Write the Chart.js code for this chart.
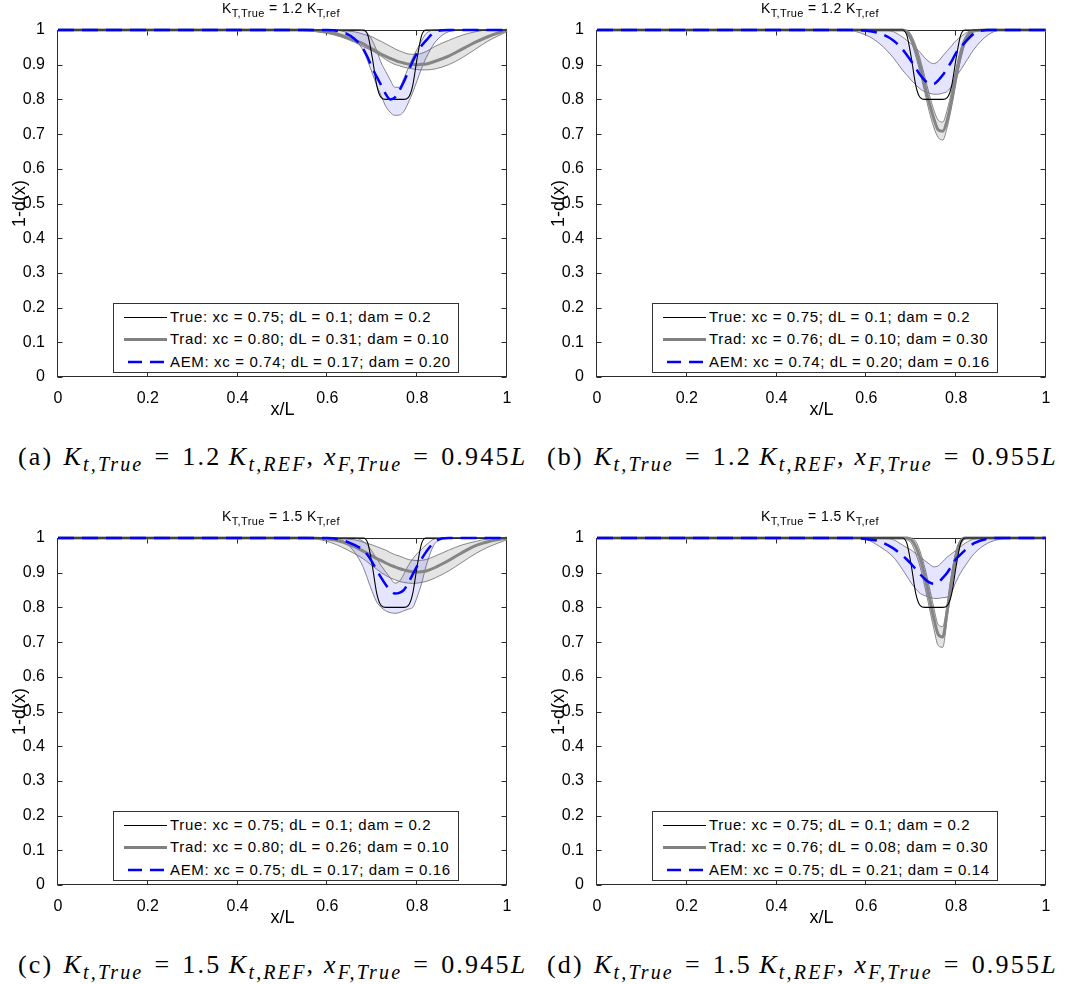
<!DOCTYPE html>
<html>
<head>
<meta charset="utf-8">
<script src="https://cdn.jsdelivr.net/npm/chart.js@4.4.1/dist/chart.umd.min.js"></script>
<style>
  body { margin: 0; background: #fff; width: 1078px; height: 984px; position: relative; overflow: hidden;
         font-family: "Liberation Sans", Arial, sans-serif; color: #000; }
  .pane { position: absolute; width: 539px; height: 430px; }
  .pane canvas { position: absolute; left: 0; top: 0; }
  .ttl { position: absolute; left: 281px; top: 0px; transform: translateX(-50%); font-size: 14px; line-height: 16px; letter-spacing: 0.4px; white-space: nowrap; }
  .ttl sub { font-size: 11px; }
  .leg { position: absolute; left: 113px; top: 303px; width: 344px; height: 66px; border: 1px solid #333; background: #fff;
         font-size: 15px; letter-spacing: 0.65px; padding-top: 2px; box-sizing: content-box; }
  .row { height: 22.3px; line-height: 22.3px; position: relative; white-space: nowrap; }
  .row .smp { position: absolute; left: 10px; top: 11px; width: 43px; }
  .row span { position: absolute; left: 56px; }
  .cap { position: absolute; font-family: "Liberation Serif", "DejaVu Serif", serif; font-size: 26px; line-height: 28px; letter-spacing: 2.2px; white-space: nowrap; }
  .cap sub { font-size: 20px; }
  .cap .eq { margin: 0 11px; }
  .cap .lb { margin-right: 10px; }
</style>
</head>
<body>
<script>
// shared x grid (x/L)
const xs = [0, 0.5, 0.55, 0.6, 0.63, 0.66, 0.68, 0.69, 0.70, 0.71, 0.72, 0.73, 0.74, 0.75, 0.76, 0.77, 0.78, 0.79, 0.80, 0.81, 0.82, 0.84, 0.87, 0.90, 0.93, 0.96, 1.0];

// true damage (same in all panels)
const trueY = [1, 1, 1, 1, 1, 1, 1, 0.985, 0.92, 0.84, 0.805, 0.8, 0.8, 0.8, 0.8, 0.8, 0.805, 0.84, 0.92, 0.985, 1, 1, 1, 1, 1, 1, 1];

// (a)
const tradA   = [1, 1, 1, 0.995, 0.985, 0.97, 0.96, 0.952, 0.945, 0.938, 0.93, 0.924, 0.918, 0.913, 0.908, 0.905, 0.902, 0.901, 0.90, 0.901, 0.902, 0.91, 0.925, 0.945, 0.965, 0.982, 1];
const tradHiA = [1, 1, 1, 1, 0.998, 0.995, 0.988, 0.984, 0.98, 0.973, 0.967, 0.96, 0.953, 0.946, 0.94, 0.935, 0.931, 0.93, 0.93, 0.933, 0.938, 0.953, 0.97, 0.985, 0.995, 1, 1];
const tradLoA = [1, 1, 0.998, 0.99, 0.98, 0.965, 0.952, 0.946, 0.94, 0.932, 0.924, 0.915, 0.907, 0.901, 0.897, 0.893, 0.89, 0.888, 0.886, 0.885, 0.885, 0.888, 0.9, 0.92, 0.945, 0.97, 0.995];
const aemA    = [1, 1, 1, 1, 0.995, 0.975, 0.945, 0.92, 0.89, 0.865, 0.84, 0.815, 0.80, 0.805, 0.825, 0.85, 0.88, 0.91, 0.935, 0.955, 0.97, 0.995, 1, 1, 1, 1, 1];
const aemHiA  = [1, 1, 1, 1, 1, 1, 0.998, 0.99, 0.97, 0.94, 0.905, 0.88, 0.856, 0.835, 0.835, 0.86, 0.89, 0.92, 0.945, 0.97, 0.99, 1, 1, 1, 1, 1, 1];
const aemLoA  = [1, 1, 1, 1, 0.998, 0.975, 0.94, 0.91, 0.875, 0.84, 0.81, 0.78, 0.763, 0.754, 0.755, 0.765, 0.79, 0.82, 0.855, 0.89, 0.92, 0.965, 0.995, 1, 1, 1, 1];

// (b)
const tradB   = [1, 1, 1, 1, 1, 1, 1, 0.995, 0.975, 0.94, 0.895, 0.84, 0.79, 0.745, 0.712, 0.708, 0.74, 0.80, 0.87, 0.93, 0.97, 0.998, 1, 1, 1, 1, 1];
const tradHiB = [1, 1, 1, 1, 1, 1, 1, 1, 0.985, 0.955, 0.915, 0.865, 0.815, 0.77, 0.74, 0.735, 0.77, 0.825, 0.89, 0.945, 0.98, 1, 1, 1, 1, 1, 1];
const tradLoB = [1, 1, 1, 1, 1, 1, 1, 0.99, 0.965, 0.925, 0.875, 0.82, 0.765, 0.72, 0.69, 0.683, 0.72, 0.78, 0.85, 0.915, 0.96, 0.995, 1, 1, 1, 1, 1];
const aemB    = [1, 1, 1, 0.998, 0.99, 0.97, 0.945, 0.928, 0.91, 0.89, 0.87, 0.855, 0.845, 0.845, 0.855, 0.87, 0.89, 0.91, 0.935, 0.95, 0.965, 0.99, 1, 1, 1, 1, 1];
const aemHiB  = [1, 1, 1, 1, 1, 0.995, 0.98, 0.97, 0.96, 0.948, 0.935, 0.92, 0.908, 0.903, 0.91, 0.925, 0.94, 0.955, 0.97, 0.98, 0.99, 1, 1, 1, 1, 1, 1];
const aemLoB  = [1, 1, 1, 0.985, 0.96, 0.92, 0.885, 0.87, 0.855, 0.842, 0.83, 0.822, 0.818, 0.815, 0.815, 0.818, 0.823, 0.84, 0.865, 0.885, 0.905, 0.945, 0.985, 1, 1, 1, 1];

// (c)
const tradC   = [1, 1, 1, 0.997, 0.99, 0.975, 0.962, 0.955, 0.948, 0.941, 0.935, 0.928, 0.922, 0.917, 0.912, 0.908, 0.905, 0.903, 0.902, 0.903, 0.905, 0.915, 0.935, 0.958, 0.978, 0.99, 1];
const tradHiC = [1, 1, 1, 1, 0.998, 0.995, 0.988, 0.984, 0.98, 0.975, 0.97, 0.965, 0.958, 0.952, 0.948, 0.943, 0.938, 0.936, 0.935, 0.936, 0.938, 0.948, 0.965, 0.98, 0.99, 0.998, 1];
const tradLoC = [1, 1, 1, 0.99, 0.975, 0.955, 0.94, 0.93, 0.92, 0.91, 0.90, 0.892, 0.885, 0.88, 0.875, 0.872, 0.87, 0.869, 0.87, 0.872, 0.875, 0.885, 0.905, 0.93, 0.955, 0.975, 0.995];
const aemC    = [1, 1, 1, 1, 0.995, 0.98, 0.965, 0.95, 0.93, 0.907, 0.885, 0.865, 0.85, 0.84, 0.842, 0.85, 0.87, 0.895, 0.92, 0.94, 0.96, 0.99, 1, 1, 1, 1, 1];
const aemHiC  = [1, 1, 1, 1, 1, 1, 0.99, 0.978, 0.96, 0.94, 0.92, 0.902, 0.885, 0.87, 0.875, 0.895, 0.92, 0.94, 0.955, 0.968, 0.98, 0.998, 1, 1, 1, 1, 1];
const aemLoC  = [1, 1, 1, 1, 0.995, 0.96, 0.915, 0.88, 0.845, 0.815, 0.80, 0.79, 0.785, 0.783, 0.785, 0.79, 0.795, 0.80, 0.83, 0.87, 0.92, 0.985, 1, 1, 1, 1, 1];

// (d)
const tradD   = [1, 1, 1, 1, 1, 1, 1, 1, 0.995, 0.975, 0.94, 0.89, 0.83, 0.77, 0.722, 0.715, 0.79, 0.88, 0.95, 0.99, 1, 1, 1, 1, 1, 1, 1];
const tradHiD = [1, 1, 1, 1, 1, 1, 1, 1, 1, 0.99, 0.96, 0.915, 0.86, 0.80, 0.75, 0.745, 0.81, 0.90, 0.965, 0.995, 1, 1, 1, 1, 1, 1, 1];
const tradLoD = [1, 1, 1, 1, 1, 1, 1, 0.995, 0.985, 0.955, 0.915, 0.86, 0.80, 0.74, 0.69, 0.685, 0.77, 0.86, 0.935, 0.98, 0.997, 1, 1, 1, 1, 1, 1];
const aemD    = [1, 1, 1, 0.997, 0.99, 0.97, 0.95, 0.938, 0.925, 0.91, 0.895, 0.882, 0.872, 0.868, 0.872, 0.885, 0.90, 0.92, 0.94, 0.953, 0.965, 0.985, 0.998, 1, 1, 1, 1];
const aemHiD  = [1, 1, 1, 1, 1, 0.995, 0.98, 0.972, 0.965, 0.955, 0.945, 0.935, 0.925, 0.917, 0.92, 0.932, 0.945, 0.955, 0.965, 0.975, 0.985, 0.997, 1, 1, 1, 1, 1];
const aemLoD  = [1, 1, 1, 0.995, 0.975, 0.945, 0.91, 0.89, 0.87, 0.853, 0.84, 0.834, 0.83, 0.826, 0.826, 0.828, 0.83, 0.845, 0.875, 0.90, 0.92, 0.955, 0.985, 0.997, 1, 1, 1];

// texts
const titles = ['1.2', '1.2', '1.5', '1.5'];
const legendTrue = 'True: xc = 0.75; dL = 0.1; dam = 0.2';
const legendTrad = ['Trad: xc = 0.80; dL = 0.31; dam = 0.10', 'Trad: xc = 0.76; dL = 0.10; dam = 0.30',
                    'Trad: xc = 0.80; dL = 0.26; dam = 0.10', 'Trad: xc = 0.76; dL = 0.08; dam = 0.30'];
const legendAem  = ['AEM: xc = 0.74; dL = 0.17; dam = 0.20', 'AEM: xc = 0.74; dL = 0.20; dam = 0.16',
                    'AEM: xc = 0.75; dL = 0.17; dam = 0.16', 'AEM: xc = 0.75; dL = 0.21; dam = 0.14'];
const capLetters = ['a', 'b', 'c', 'd'];
const capK = ['1.2', '1.2', '1.5', '1.5'];
const capXF = ['0.945', '0.955', '0.945', '0.955'];

const panels = [
  { left: 0,   top: 0,   trad: tradA, hi: tradHiA, lo: tradLoA, aem: aemA, aHi: aemHiA, aLo: aemLoA },
  { left: 539, top: 0,   trad: tradB, hi: tradHiB, lo: tradLoB, aem: aemB, aHi: aemHiB, aLo: aemLoB },
  { left: 0,   top: 508, trad: tradC, hi: tradHiC, lo: tradLoC, aem: aemC, aHi: aemHiC, aLo: aemLoC },
  { left: 539, top: 508, trad: tradD, hi: tradHiD, lo: tradLoD, aem: aemD, aHi: aemHiD, aLo: aemLoD }
];

Chart.defaults.font.family = '"Liberation Sans", Arial, sans-serif';
Chart.defaults.color = '#000';

// MATLAB-like box with inward ticks
const boxTicks = {
  id: 'boxTicks',
  beforeDatasetsDraw(chart) {
    const {ctx, chartArea: a, scales: {x, y}} = chart;
    const L = Math.round(a.left) - 0.5, R = Math.round(a.right) - 0.5;
    const T = Math.round(a.top) + 0.5, B = Math.round(a.bottom) - 0.5;
    ctx.save();
    ctx.strokeStyle = '#2b2b2b';
    ctx.lineWidth = 1;
    ctx.strokeRect(L, T, R - L, B - T);
    ctx.beginPath();
    x.ticks.forEach(t => {
      const px = Math.round(x.getPixelForValue(t.value)) - 0.5;
      ctx.moveTo(px, B); ctx.lineTo(px, B - 5);
      ctx.moveTo(px, T); ctx.lineTo(px, T + 5);
    });
    y.ticks.forEach(t => {
      const py = Math.round(y.getPixelForValue(t.value)) + 0.5;
      ctx.moveTo(L, py); ctx.lineTo(L + 5, py);
      ctx.moveTo(R, py); ctx.lineTo(R - 5, py);
    });
    ctx.stroke();
    ctx.restore();
  }
};

function pts(arr) { return xs.map((x, i) => ({ x: x, y: arr[i] })); }
const fmt = v => String(+v.toFixed(1));

function lineSet(arr, color, width, extra) {
  return Object.assign({
    data: pts(arr), borderColor: color, borderWidth: width, pointRadius: 0,
    cubicInterpolationMode: 'monotone', fill: false, clip: 5
  }, extra || {});
}

panels.forEach((p, k) => {
  const pane = document.createElement('div');
  pane.className = 'pane';
  pane.style.left = p.left + 'px';
  pane.style.top = p.top + 'px';
  const cv = document.createElement('canvas');
  cv.width = 539;
  cv.height = 430;
  cv.style.width = '539px';
  cv.style.height = '430px';
  pane.appendChild(cv);

  const ttl = document.createElement('div');
  ttl.className = 'ttl';
  ttl.innerHTML = 'K<sub>T,True</sub> = ' + titles[k] + ' K<sub>T,ref</sub>';
  pane.appendChild(ttl);

  const leg = document.createElement('div');
  leg.className = 'leg';
  leg.innerHTML =
    '<div class="row"><div class="smp" style="border-top:1px solid #000;margin-top:0px"></div><span>' + legendTrue + '</span></div>' +
    '<div class="row"><div class="smp" style="border-top:3px solid #808080;margin-top:-1px"></div><span>' + legendTrad[k] + '</span></div>' +
    '<div class="row"><svg class="smp" width="43" height="4" style="margin-top:-2px"><line x1="4" y1="2" x2="43" y2="2" stroke="#0000ff" stroke-width="2.5" stroke-dasharray="14 8"/></svg><span>' + legendAem[k] + '</span></div>';
  pane.appendChild(leg);
  document.body.appendChild(pane);

  const cap = document.createElement('div');
  cap.className = 'cap';
  cap.style.left = (p.left === 0 ? 18 : 547) + 'px';
  cap.style.top = (p.top + 443) + 'px';
  cap.innerHTML = '<span class="lb">(' + capLetters[k] + ')</span><i>K</i><sub><i>t,True</i></sub><span class="eq">=</span>' + capK[k] +
    '&thinsp;<i>K</i><sub><i>t,REF</i></sub>, <i>x</i><sub><i>F,True</i></sub><span class="eq">=</span>' + capXF[k] + '<i>L</i>';
  document.body.appendChild(cap);

  new Chart(cv, {
    type: 'line',
    data: {
      datasets: [
        lineSet(p.aem, '#0000ff', 2.5, { borderDash: [16, 8] }),
        lineSet(trueY, '#000000', 1.1),
        lineSet(p.trad, '#858585', 3),
        lineSet(p.aHi, '#6a6a6a', 0.8, { fill: '+1', backgroundColor: 'rgba(40,40,255,0.12)' }),
        lineSet(p.aLo, '#6a6a6a', 0.8),
        lineSet(p.hi, '#6a6a6a', 0.8, { fill: '+1', backgroundColor: 'rgba(120,120,120,0.2)' }),
        lineSet(p.lo, '#6a6a6a', 0.8)
      ]
    },
    options: {
      responsive: false,
      animation: false,
      events: [],
      layout: { padding: { top: 30, right: 32, left: 0, bottom: 0 } },
      plugins: { legend: { display: false }, tooltip: { enabled: false } },
      scales: {
        x: {
          type: 'linear', min: 0, max: 1,
          grid: { display: false }, border: { display: false },
          ticks: { stepSize: 0.2, font: { size: 16 }, padding: 4, maxRotation: 0, color: '#000', callback: fmt },
          title: { display: true, text: 'x/L', font: { size: 18 }, color: '#000', padding: { top: 0, bottom: 9 } },
          afterFit(s) { s.height = 53; }
        },
        y: {
          type: 'linear', min: 0, max: 1,
          grid: { display: false }, border: { display: false },
          ticks: { stepSize: 0.1, font: { size: 16 }, padding: 5, color: '#000', callback: fmt },
          title: { display: true, text: '1-d(x)', font: { size: 18 }, color: '#000', padding: { top: 9, bottom: 0 } },
          afterFit(s) { s.width = 58; }
        }
      }
    },
    plugins: [boxTicks]
  });
});
</script>
</body>
</html>
